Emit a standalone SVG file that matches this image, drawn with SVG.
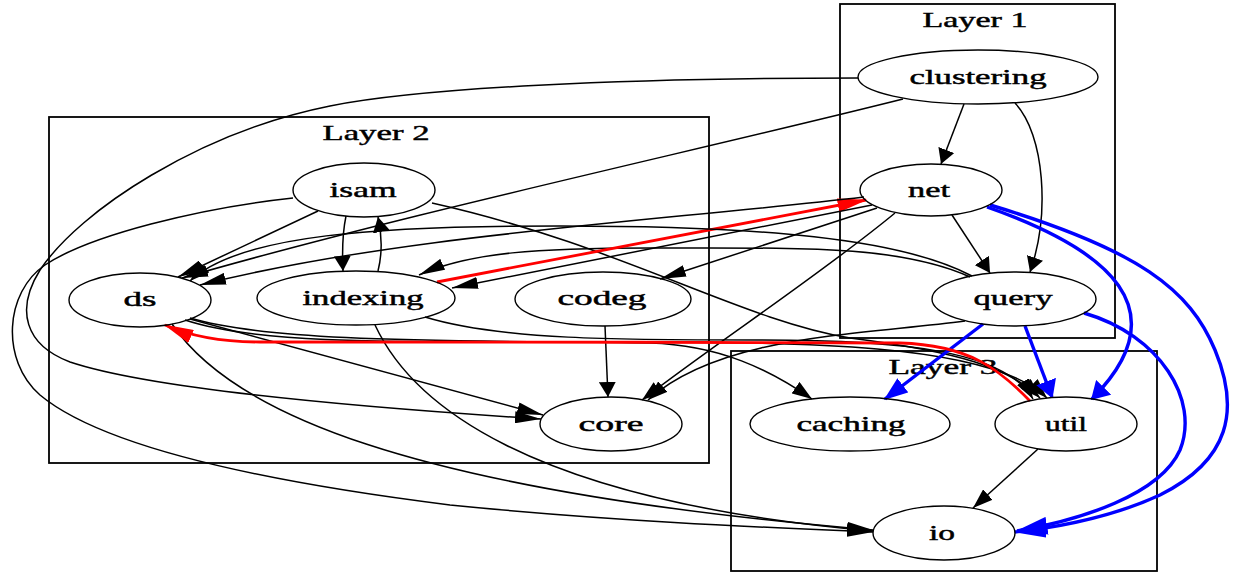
<svg xmlns="http://www.w3.org/2000/svg" width="1238" height="573" viewBox="0 0 1238 573">
<style>
.cl{fill:none;stroke:#000;stroke-width:1.8}
.nd ellipse{fill:none;stroke:#000;stroke-width:1.4}
text{font-family:"Liberation Serif","Times New Roman",serif;font-size:21px;text-anchor:middle;fill:#000;stroke:#000;stroke-width:0.45}
.e{fill:none;stroke:#000;stroke-width:1.5}
.e.b{stroke:#0000ff;stroke-width:3.4}
.e.r{stroke:#ff0000;stroke-width:2.8}
</style>
<defs>
<marker id="kv" markerUnits="userSpaceOnUse" markerWidth="15" markerHeight="17" refX="15" refY="8.5" orient="auto" viewBox="0 0 15 17"><path d="M0,0 L15,8.5 L0,17 z" fill="#000"/></marker>
<marker id="kd" markerUnits="userSpaceOnUse" markerWidth="20" markerHeight="14" refX="20" refY="7" orient="auto" viewBox="0 0 20 14"><path d="M0,0 L20,7 L0,14 z" fill="#000"/></marker>
<marker id="kh" markerUnits="userSpaceOnUse" markerWidth="26" markerHeight="12" refX="26" refY="6" orient="auto" viewBox="0 0 26 12"><path d="M0,0 L26,6 L0,12 z" fill="#000"/></marker>
<marker id="bv" markerUnits="userSpaceOnUse" markerWidth="18" markerHeight="21" refX="16.5" refY="10.5" orient="auto" viewBox="0 0 18 21"><path d="M0,0 L18,10.5 L0,21 z" fill="#0000ff"/></marker>
<marker id="bd" markerUnits="userSpaceOnUse" markerWidth="24" markerHeight="18" refX="22.5" refY="9" orient="auto" viewBox="0 0 24 18"><path d="M0,0 L24,9 L0,18 z" fill="#0000ff"/></marker>
<marker id="bh" markerUnits="userSpaceOnUse" markerWidth="32" markerHeight="18" refX="30.5" refY="9" orient="auto" viewBox="0 0 32 18"><path d="M0,0 L32,9 L0,18 z" fill="#0000ff"/></marker>
<marker id="rh" markerUnits="userSpaceOnUse" markerWidth="30" markerHeight="14" refX="28.5" refY="7" orient="auto" viewBox="0 0 30 14"><path d="M0,0 L30,7 L0,14 z" fill="#ff0000"/></marker>
</defs>
<rect width="1238" height="573" fill="#fff"/>
<g id="clusters">
<g id="cluster-layer1"><rect class="cl" x="840" y="4" width="275" height="334"/><text x="975" y="27" textLength="105" lengthAdjust="spacingAndGlyphs">Layer 1</text></g>
<g id="cluster-layer2"><rect class="cl" x="49" y="117" width="660" height="346"/><text x="376" y="140" textLength="107" lengthAdjust="spacingAndGlyphs">Layer 2</text></g>
<g id="cluster-layer3"><rect class="cl" x="731" y="351" width="426" height="220"/><text x="943" y="374" textLength="109" lengthAdjust="spacingAndGlyphs">Layer 3</text></g>
</g>
<g id="edges">
<path class="e" marker-end="url(#kv)" d="M964,104 L941,164"/>
<path class="e" marker-end="url(#kv)" d="M1015,103 C1045,135 1050,215 1030,272"/>
<path class="e" marker-end="url(#kh)" d="M903,99 C700,150 400,215 182,278"/>
<path class="e" marker-end="url(#kh)" d="M970,277 C900,245 800,248 650,248 C540,248 470,252 419,275"/>
<path class="e" marker-end="url(#kh)" d="M858,78 C620,78 420,88 330,106 C200,132 80,210 40,270 C15,310 25,345 70,362 C160,392 400,410 541,419"/>
<path class="e" marker-end="url(#kh)" d="M293,198 C200,208 90,235 45,265 C5,292 0,360 40,395 C100,445 250,480 450,505 C620,522 780,528 873,532"/>
<path class="e" marker-end="url(#kh)" d="M318,211 L178,277"/>
<path class="e" marker-end="url(#kv)" d="M346,216 C342,235 342,250 343,271"/>
<path class="e" marker-end="url(#kv)" d="M378,271 C382,255 382,235 378,217"/>
<path class="e" marker-end="url(#kd)" d="M432,203 C620,245 740,320 850,338 C960,352 1010,368 1040,398"/>
<path class="e" marker-end="url(#kd)" d="M185,320 C260,345 400,342 600,342 C800,342 990,342 1047,398"/>
<path class="e" marker-end="url(#kd)" d="M190,318 C280,345 500,340 650,343 C720,345 770,370 812,399"/>
<path class="e" marker-end="url(#kd)" d="M425,317 C500,340 620,340 760,340 C900,340 1005,350 1033,399"/>
<path class="e" marker-end="url(#kh)" d="M190,319 L543,415"/>
<path class="e" marker-end="url(#kh)" d="M172,324 C230,410 400,490 873,530"/>
<path class="e" marker-end="url(#kh)" d="M375,325 C410,400 520,500 873,531"/>
<path class="e r" marker-end="url(#rh)" d="M437,282 L866,200"/>
<path class="e" marker-end="url(#kh)" d="M872,205 L452,288"/>
<path class="e" marker-end="url(#kh)" d="M864,197 C650,222 400,235 200,285"/>
<path class="e" marker-end="url(#kh)" d="M877,208 L660,279"/>
<path class="e" marker-end="url(#kd)" d="M895,213 C820,275 720,340 642,400"/>
<path class="e" marker-end="url(#kd)" d="M965,321 C860,335 720,335 648,400"/>
<path class="e" marker-end="url(#kd)" d="M972,276 C900,238 760,226 560,226 C380,226 240,234 190,281"/>
<path class="e" marker-end="url(#kv)" d="M952,215 L990,273"/>
<path class="e" marker-end="url(#kv)" d="M605,326 L608,397"/>
<path class="e" marker-end="url(#kd)" d="M1038,449 L973,508"/>
<path class="e b" marker-end="url(#bv)" d="M987,207 C1110,250 1180,310 1092,399"/>
<path class="e b" marker-end="url(#bh)" d="M990,205 C1140,250 1190,290 1215,350 C1240,410 1230,460 1160,495 C1110,518 1060,527 1015,532"/>
<path class="e b" marker-end="url(#bh)" d="M1084,313 C1160,335 1200,400 1180,450 C1160,495 1080,520 1017,531"/>
<path class="e b" marker-end="url(#bv)" d="M1025,326 L1052,397"/>
<path class="e b" marker-end="url(#bd)" d="M983,324 L885,399"/>
<path class="e r" marker-end="url(#rh)" d="M1030,401 C1000,370 970,345 900,343 C700,342 400,342 260,342 C220,342 190,336 165,325"/>
</g>
<g id="node-clustering" class="nd"><ellipse cx="978" cy="77" rx="120" ry="27"/><text x="978" y="84" textLength="137" lengthAdjust="spacingAndGlyphs">clustering</text></g>
<g id="node-net" class="nd"><ellipse cx="931" cy="190" rx="71" ry="26"/><text x="929" y="197" textLength="42" lengthAdjust="spacingAndGlyphs">net</text></g>
<g id="node-query" class="nd"><ellipse cx="1014" cy="299" rx="82" ry="27"/><text x="1013" y="305" textLength="79" lengthAdjust="spacingAndGlyphs">query</text></g>
<g id="node-isam" class="nd"><ellipse cx="364" cy="190" rx="71" ry="27"/><text x="363" y="197" textLength="67" lengthAdjust="spacingAndGlyphs">isam</text></g>
<g id="node-ds" class="nd"><ellipse cx="140" cy="300" rx="71" ry="27"/><text x="140" y="306" textLength="33" lengthAdjust="spacingAndGlyphs">ds</text></g>
<g id="node-indexing" class="nd"><ellipse cx="356" cy="298" rx="99" ry="27"/><text x="363" y="305" textLength="121" lengthAdjust="spacingAndGlyphs">indexing</text></g>
<g id="node-codeg" class="nd"><ellipse cx="603" cy="299" rx="88" ry="27"/><text x="602" y="305" textLength="89" lengthAdjust="spacingAndGlyphs">codeg</text></g>
<g id="node-core" class="nd"><ellipse cx="611" cy="424" rx="71" ry="27"/><text x="611" y="431" textLength="65" lengthAdjust="spacingAndGlyphs">core</text></g>
<g id="node-caching" class="nd"><ellipse cx="850" cy="424" rx="100" ry="27"/><text x="851" y="431" textLength="109" lengthAdjust="spacingAndGlyphs">caching</text></g>
<g id="node-util" class="nd"><ellipse cx="1066" cy="424" rx="71" ry="27"/><text x="1066" y="431" textLength="42" lengthAdjust="spacingAndGlyphs">util</text></g>
<g id="node-io" class="nd"><ellipse cx="944" cy="533" rx="71" ry="27"/><text x="942" y="540" textLength="26" lengthAdjust="spacingAndGlyphs">io</text></g>
</svg>
